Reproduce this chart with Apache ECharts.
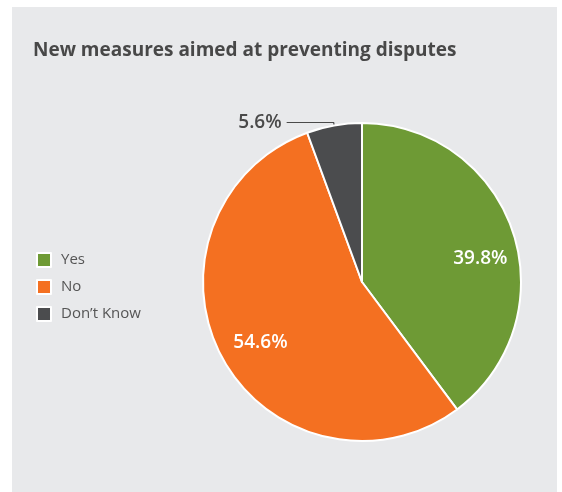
<!DOCTYPE html>
<html>
<head>
<meta charset="utf-8">
<script src="https://cdn.jsdelivr.net/npm/echarts@6/dist/echarts.min.js"></script>
<style>
html,body{margin:0;padding:0;background:#fff;}
#c{width:562px;height:492px;}
</style>
</head>
<body>
<div id="c"></div>
<script>
var titleText = 'New measures aimed at preventing disputes';
var categories = ['Yes', 'No', 'Don\u2019t Know'];
var values = [39.8, 54.6, 5.6];
var colors = ['#6e9a35', '#f47021', '#4b4c4e'];

var labelOpts = [
  { position: 'inside', color: '#ffffff', offset: [40, 3] },
  { position: 'inside', color: '#ffffff', offset: [-29, 21] },
  { position: 'outside', color: '#4a4a4a' }
];

var data = categories.map(function (c, i) {
  return {
    name: c,
    value: values[i],
    itemStyle: { color: colors[i] },
    label: labelOpts[i],
    labelLine: { show: i === 2, length: 3, length2: 47, lineStyle: { color: '#4a4a4a', width: 1.2 } }
  };
});

var chart = echarts.init(document.getElementById('c'), null, { renderer: 'canvas' });
chart.setOption({
  animation: false,
  backgroundColor: '#ffffff',
  graphic: [{
    type: 'rect', z: 0, silent: true,
    shape: { x: 12, y: 7, width: 545, height: 485 },
    style: { fill: '#e8e9eb' }
  }],
  title: {
    text: titleText,
    left: 33, top: 41, padding: 0,
    textStyle: { fontFamily: 'Open Sans', fontWeight: 'bold', fontSize: 19, color: '#484848' }
  },
  legend: {
    orient: 'vertical',
    left: 36, top: 252, padding: 0,
    icon: 'rect',
    itemWidth: 14, itemHeight: 14, itemGap: 11,
    data: categories,
    textStyle: { fontFamily: 'Open Sans', fontSize: 15, color: '#555555', padding: [0, 0, 0, 5], lineHeight: 14 }
  },
  series: [{
    type: 'pie',
    center: [362, 282],
    radius: 159,
    startAngle: 90,
    clockwise: true,
    avoidLabelOverlap: false,
    itemStyle: { borderColor: '#ffffff', borderWidth: 2 },
    label: {
      formatter: function (p) { return p.value.toFixed(1) + '%'; },
      fontFamily: 'Open Sans', fontSize: 19, fontWeight: 600,
      distanceToLabelLine: 5
    },
    data: data
  }]
});
</script>
</body>
</html>
